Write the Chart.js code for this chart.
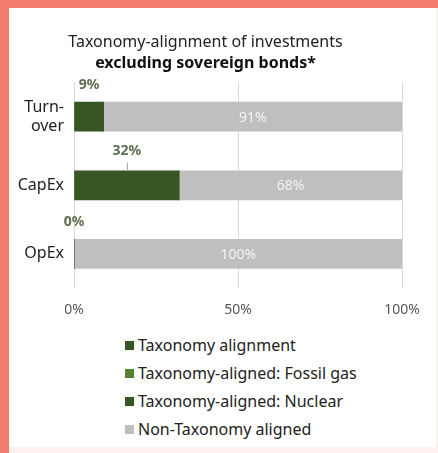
<!DOCTYPE html>
<html>
<head>
<meta charset="utf-8">
<script src="https://cdn.jsdelivr.net/npm/chart.js@4/dist/chart.umd.min.js"></script>
<style>
  html, body { margin: 0; padding: 0; }
  body { width: 438px; height: 453px; background: #fdf1f0; position: relative; overflow: hidden; font-family: "Noto Sans", sans-serif; }
  #frame { position: absolute; left: 0; top: 0; width: 438px; height: 8px; background: #f47b6f; }
  #frameLeft { position: absolute; left: 0; top: 0; width: 9px; height: 453px; background: #f47b6f; }
  #card { position: absolute; left: 9px; top: 8px; width: 427px; height: 439px; background: #fff; }
  #chart { position: absolute; left: 0; top: 0; }
  #legend { position: absolute; left: 116px; top: 323px; margin: 0; padding: 0; list-style: none; }
  #legend li { display: flex; align-items: center; height: 28px; font-size: 16px; color: #222; }
  #legend span.box { width: 9px; height: 9px; margin-right: 4px; display: inline-block; }
</style>
</head>
<body>
<div id="frame"></div>
<div id="frameLeft"></div>
<div id="card">
  <canvas id="chart" width="427" height="323"></canvas>
  <ul id="legend"></ul>
</div>
<script>
// chart data
const categories = [["Turn-", "over"], "CapEx", "OpEx"];
const aligned = [9, 32, 0];
const fossilGas = [0, 0, 0];
const nuclear = [0, 0, 0];
const nonAligned = [91, 68, 100];
const xTicks = [0, 50, 100];

const DARK_GREEN = "#375623";
const GAS_GREEN = "#548235";
const GREY = "#bfbfbf";

// draws the percentage labels the way the original report does
const valueLabels = {
  id: "valueLabels",
  afterDatasetsDraw(chart) {
    const ctx = chart.ctx;
    ctx.save();
    ctx.textAlign = "center";
    ctx.textBaseline = "middle";

    // green labels above the aligned segment
    chart.getDatasetMeta(0).data.forEach((bar, i) => {
      const x = (bar.base + bar.x) / 2;
      const top = bar.y - bar.height / 2;
      const wide = bar.x - bar.base > 40;
      const y = wide ? top - 20 : top - 17;
      if (wide) {
        ctx.strokeStyle = "#a6a6a6";
        ctx.lineWidth = 1;
        ctx.beginPath();
        ctx.moveTo(Math.round(x) + 0.5, top - 8);
        ctx.lineTo(Math.round(x) + 0.5, top);
        ctx.stroke();
      }
      ctx.font = "bold 14px 'Noto Sans'";
      ctx.fillStyle = "#5e6f50";
      ctx.fillText(aligned[i] + "%", x, y);
    });

    // white labels inside the non-aligned segment
    chart.getDatasetMeta(3).data.forEach((bar, i) => {
      ctx.font = "14px 'Noto Sans'";
      ctx.fillStyle = "#f4f4f4";
      ctx.fillText(nonAligned[i] + "%", (bar.base + bar.x) / 2, bar.y + 1);
    });
    ctx.restore();
  }
};

const chart = new Chart(document.getElementById("chart"), {
  type: "bar",
  data: {
    labels: categories,
    datasets: [
      { label: "Taxonomy alignment", data: aligned, backgroundColor: DARK_GREEN },
      { label: "Taxonomy-aligned: Fossil gas", data: fossilGas, backgroundColor: GAS_GREEN },
      { label: "Taxonomy-aligned: Nuclear", data: nuclear, backgroundColor: DARK_GREEN },
      { label: "Non-Taxonomy aligned", data: nonAligned, backgroundColor: GREY }
    ]
  },
  options: {
    indexAxis: "y",
    responsive: false,
    animation: false,
    layout: { padding: { left: 0, right: 34, top: 0, bottom: 0 } },
    datasets: { bar: { barThickness: 29, borderWidth: 0 } },
    scales: {
      x: {
        stacked: true,
        min: 0,
        max: 100,
        afterBuildTicks(scale) { scale.ticks = xTicks.map(v => ({ value: v })); },
        grid: { color: "#d9d9d9", drawTicks: false },
        border: { display: false },
        ticks: {
          padding: 13,
          color: "#595959",
          font: { family: "Noto Sans", size: 14 },
          callback: v => v + "%"
        }
      },
      y: {
        stacked: true,
        afterFit(scale) { scale.width = 65; },
        grid: { display: false, drawTicks: false },
        border: { display: false },
        ticks: {
          padding: 10,
          color: "#222",
          font: { family: "Noto Sans", size: 16 }
        }
      }
    },
    plugins: {
      legend: { display: false },
      tooltip: { enabled: false },
      title: {
        display: true,
        text: "Taxonomy-alignment of investments",
        color: "#222",
        font: { family: "Noto Sans", size: 16, weight: "normal" },
        padding: { top: 25, bottom: 2 }
      },
      subtitle: {
        display: true,
        text: "excluding sovereign bonds*",
        color: "#111",
        font: { family: "Noto Sans", size: 16, weight: "bold" },
        padding: { top: 0, bottom: 9 }
      }
    }
  },
  plugins: [valueLabels]
});

// legend list built from the chart's own legend items
const legendEl = document.getElementById("legend");
Chart.defaults.plugins.legend.labels.generateLabels(chart).forEach(item => {
  const li = document.createElement("li");
  const box = document.createElement("span");
  box.className = "box";
  box.style.background = item.fillStyle;
  li.appendChild(box);
  li.appendChild(document.createTextNode(item.text));
  legendEl.appendChild(li);
});
</script>
</body>
</html>
